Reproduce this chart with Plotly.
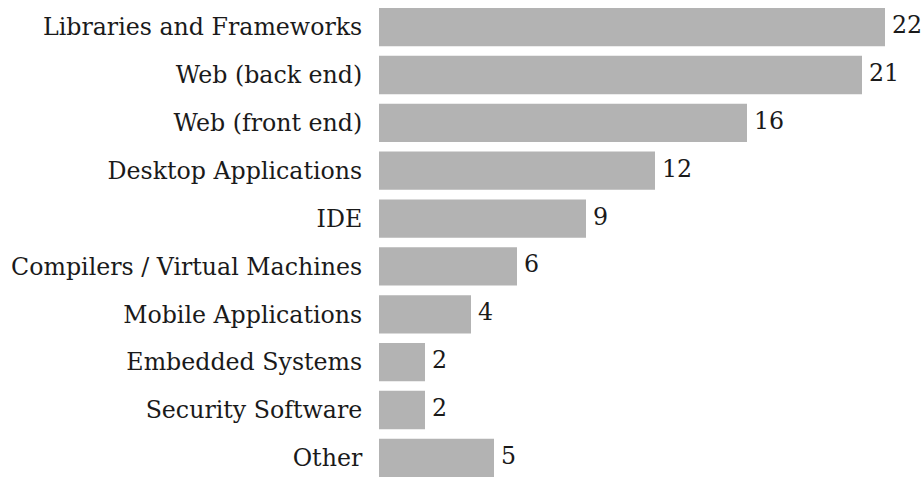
import plotly.graph_objects as go

categories = ["Libraries and Frameworks", "Web (back end)", "Web (front end)",
              "Desktop Applications", "IDE", "Compilers / Virtual Machines",
              "Mobile Applications", "Embedded Systems", "Security Software", "Other"]
values = [22, 21, 16, 12, 9, 6, 4, 2, 2, 5]

FONT = "DejaVu Serif"
FS = 23.7
TXT = "#1a1a1a"

fig = go.Figure(go.Bar(
    x=values, y=categories, orientation="h",
    marker=dict(color="#b3b3b3", line=dict(width=0)),
    width=0.8,
    cliponaxis=False,
))

for c, v in zip(categories, values):
    fig.add_annotation(x=v, y=c, text=str(v), showarrow=False,
                       xanchor="left", yanchor="middle", xshift=5, yshift=2,
                       font=dict(family=FONT, size=FS, color=TXT))

fig.update_layout(
    width=923, height=478,
    margin=dict(l=379, r=38, t=8, b=1),
    paper_bgcolor="white", plot_bgcolor="white",
    showlegend=False,
    font=dict(family=FONT, size=FS, color=TXT),
    xaxis=dict(range=[0, 22], visible=False, fixedrange=True),
    yaxis=dict(categoryorder="array", categoryarray=categories,
               range=[9.4, -0.4], showgrid=False, showline=False, zeroline=False,
               automargin=False, fixedrange=True,
               ticks="outside", ticklen=11, tickcolor="rgba(0,0,0,0)",
               tickfont=dict(family=FONT, size=FS, color=TXT)),
)

fig.write_html(
    "out.html",
    config={"displayModeBar": False},
    post_script="document.body.style.margin='0';document.body.style.overflow='hidden';",
)
